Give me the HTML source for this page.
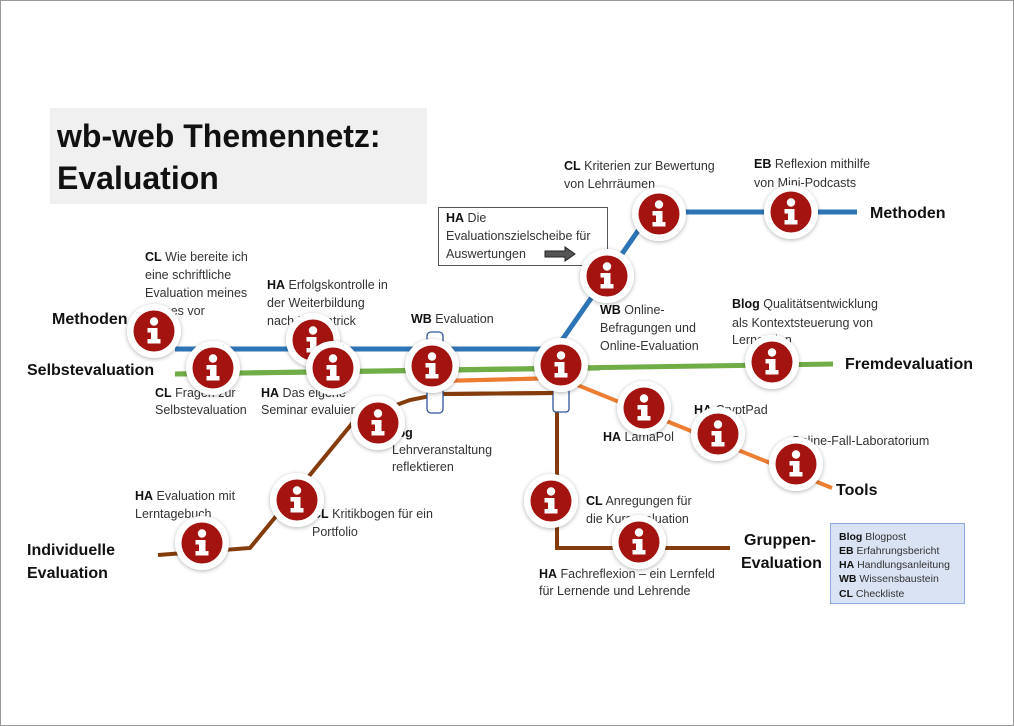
<!DOCTYPE html>
<html><head><meta charset="utf-8"><style>
html,body{margin:0;padding:0;background:#fff}
svg{display:block}
text{font-family:"Liberation Sans",sans-serif;fill:#333}
.l{font-size:12.5px}
.b{font-weight:bold;fill:#111}
.big{font-size:16px;font-weight:bold;fill:#111}
.lg{font-size:10.5px}
</style></head><body>
<svg width="1014" height="726" viewBox="0 0 1014 726" xmlns="http://www.w3.org/2000/svg">
<defs>
<filter id="sh" x="-30%" y="-30%" width="160%" height="160%"><feDropShadow dx="0" dy="1" stdDeviation="2" flood-color="#000" flood-opacity="0.3"/></filter>
<g id="n">
<circle r="27" fill="#fff" filter="url(#sh)"/>
<circle r="20.5" fill="#a3130f"/>
<circle cx="0" cy="-9.5" r="4.2" fill="#fff"/>
<path d="M-6.5,-3 H3.5 V8 H6.5 V12.5 H-6.5 V8 H-3 V1.5 H-6.5 Z" fill="#fff"/>
</g>
</defs>
<rect x="0.5" y="0.5" width="1013" height="725" fill="#fff" stroke="#999"/>
<rect x="50" y="108" width="377" height="96" fill="#f0f0f0"/>
<text x="57" y="147" style="font-size:32px;font-weight:bold;fill:#111">wb-web Themennetz:</text>
<text x="57" y="189" style="font-size:32px;font-weight:bold;fill:#111">Evaluation</text>

<polyline points="562,340 640,228 660,212 857,212" fill="none" stroke="#2e75b6" stroke-width="5"/>
<line x1="175" y1="374" x2="833" y2="364" stroke="#70ad47" stroke-width="5"/>
<polyline points="435,381 560,378 832,488" fill="none" stroke="#ed7d31" stroke-width="4"/>
<polyline points="158,555 250,548 355,420 410,400 440,394 560,393" fill="none" stroke="#843c0c" stroke-width="4"/>
<polyline points="557,393 557,548 730,548" fill="none" stroke="#843c0c" stroke-width="4"/>
<rect x="427" y="332" width="16" height="81" rx="4" fill="#fff" stroke="#2f5597" stroke-width="1.3"/>
<rect x="553" y="385" width="16" height="27" rx="3" fill="#fff" stroke="#2f5597" stroke-width="1.3"/>
<line x1="175" y1="349" x2="560" y2="349" stroke="#2e75b6" stroke-width="5"/>
<line x1="175" y1="374" x2="600" y2="368" stroke="#70ad47" stroke-width="5"/>
<line x1="445" y1="381" x2="560" y2="378" stroke="#ed7d31" stroke-width="4"/>
<line x1="445" y1="394" x2="553" y2="393" stroke="#843c0c" stroke-width="4"/>

<rect x="438.5" y="207.5" width="169" height="58" fill="#fff" stroke="#555"/>
<text class="l" x="446" y="222"><tspan class="b">HA</tspan> Die</text>
<text class="l" x="446" y="240">Evaluationszielscheibe für</text>
<text class="l" x="446" y="258">Auswertungen</text>
<path d="M545,251 H565 V247 L575,254 L565,261 V257 H545 Z" fill="#555" stroke="#222"/>

<g class="l">
<text x="145" y="261"><tspan class="b">CL</tspan> Wie bereite ich</text>
<text x="145" y="279">eine schriftliche</text>
<text x="145" y="297">Evaluation meines</text>
<text x="145" y="315">Kurses vor</text>
<text x="267" y="289"><tspan class="b">HA</tspan> Erfolgskontrolle in</text>
<text x="267" y="307">der Weiterbildung</text>
<text x="267" y="325">nach Kirkpatrick</text>
<text x="411" y="323"><tspan class="b">WB</tspan> Evaluation</text>
<text x="155" y="397"><tspan class="b">CL</tspan> Fragen zur</text>
<text x="155" y="414">Selbstevaluation</text>
<text x="261" y="397"><tspan class="b">HA</tspan> Das eigene</text>
<text x="261" y="414">Seminar evaluieren</text>
<text x="385" y="437"><tspan class="b">Blog</tspan></text>
<text x="392" y="454">Lehrveranstaltung</text>
<text x="392" y="471">reflektieren</text>
<text x="135" y="500"><tspan class="b">HA</tspan> Evaluation mit</text>
<text x="135" y="518">Lerntagebuch</text>
<text x="312" y="518"><tspan class="b">CL</tspan> Kritikbogen für ein</text>
<text x="312" y="536">Portfolio</text>
<text x="564" y="170"><tspan class="b">CL</tspan> Kriterien zur Bewertung</text>
<text x="564" y="188">von Lehrräumen</text>
<text x="754" y="168"><tspan class="b">EB</tspan> Reflexion mithilfe</text>
<text x="754" y="187">von Mini-Podcasts</text>
<text x="600" y="314"><tspan class="b">WB</tspan> Online-</text>
<text x="600" y="332">Befragungen und</text>
<text x="600" y="350">Online-Evaluation</text>
<text x="732" y="308"><tspan class="b">Blog</tspan> Qualitätsentwicklung</text>
<text x="732" y="327">als Kontextsteuerung von</text>
<text x="732" y="344">Lernenden</text>
<text x="603" y="441"><tspan class="b">HA</tspan> LamaPol</text>
<text x="694" y="414"><tspan class="b">HA</tspan> CryptPad</text>
<text x="791" y="445">Online-Fall-Laboratorium</text>
<text x="586" y="505"><tspan class="b">CL</tspan> Anregungen für</text>
<text x="586" y="523">die Kursevaluation</text>
<text x="539" y="578"><tspan class="b">HA</tspan> Fachreflexion – ein Lernfeld</text>
<text x="539" y="595">für Lernende und Lehrende</text>
</g>
<text class="big" x="52" y="324">Methoden</text>
<text class="big" x="27" y="375">Selbstevaluation</text>
<text class="big" x="27" y="555">Individuelle</text>
<text class="big" x="27" y="578">Evaluation</text>
<text class="big" x="870" y="218">Methoden</text>
<text class="big" x="845" y="369">Fremdevaluation</text>
<text class="big" x="836" y="495">Tools</text>
<text class="big" x="744" y="545">Gruppen-</text>
<text class="big" x="741" y="568">Evaluation</text>

<rect x="830.5" y="523.5" width="134" height="80" fill="#dae3f3" stroke="#8faadc"/>
<g class="lg">
<text x="839" y="540"><tspan class="b">Blog</tspan> Blogpost</text>
<text x="839" y="554"><tspan class="b">EB</tspan> Erfahrungsbericht</text>
<text x="839" y="568"><tspan class="b">HA</tspan> Handlungsanleitung</text>
<text x="839" y="582"><tspan class="b">WB</tspan> Wissensbaustein</text>
<text x="839" y="597"><tspan class="b">CL</tspan> Checkliste</text>
</g>

<use href="#n" x="154" y="331"/>
<use href="#n" x="213" y="368"/>
<use href="#n" x="313" y="340"/>
<use href="#n" x="333" y="368"/>
<use href="#n" x="432" y="366"/>
<use href="#n" x="378" y="423"/>
<use href="#n" x="297" y="500"/>
<use href="#n" x="202" y="543"/>
<use href="#n" x="561" y="365"/>
<use href="#n" x="607" y="276"/>
<use href="#n" x="659" y="214"/>
<use href="#n" x="791" y="212"/>
<use href="#n" x="772" y="362"/>
<use href="#n" x="644" y="408"/>
<use href="#n" x="718" y="434"/>
<use href="#n" x="796" y="464"/>
<use href="#n" x="551" y="501"/>
<use href="#n" x="639" y="542"/>
</svg>
</body></html>
